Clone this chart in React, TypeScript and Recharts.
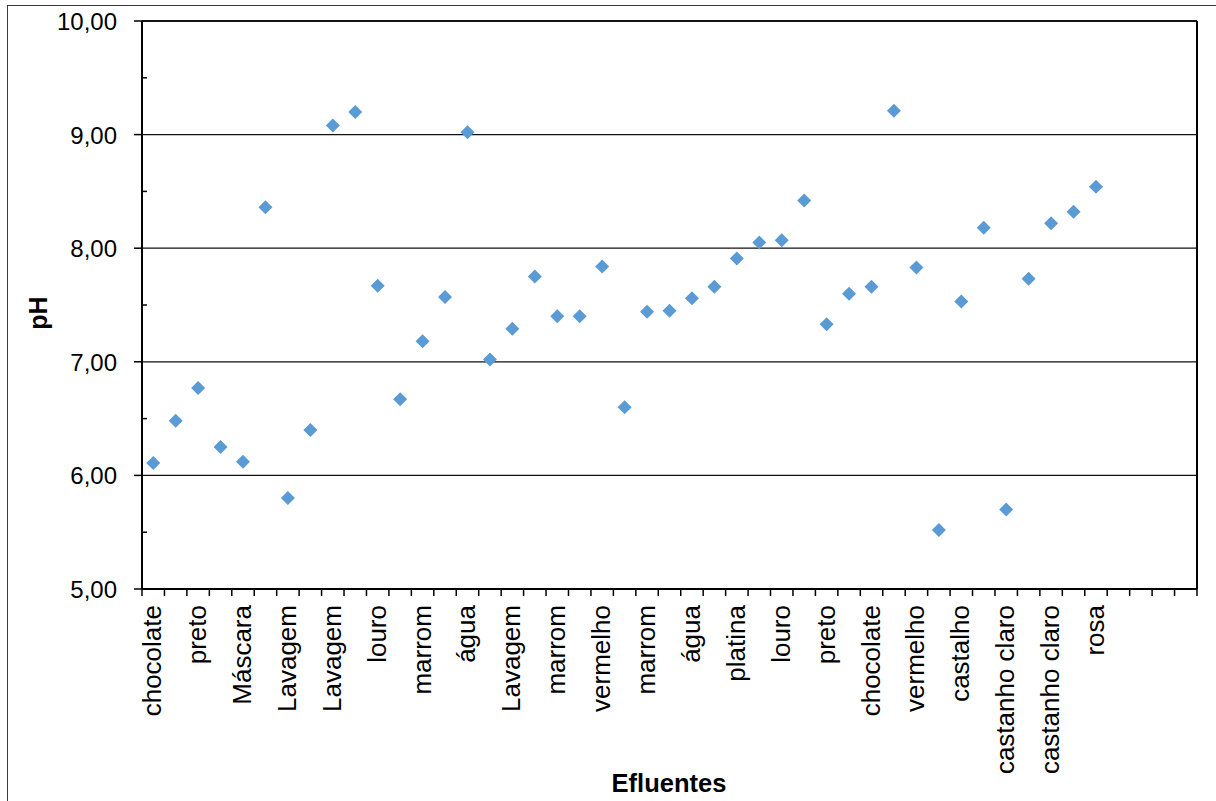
import React from "react";
import {
  CartesianGrid,
  ReferenceLine,
  Scatter,
  ScatterChart,
  XAxis,
  YAxis,
} from "recharts";

// pH of each effluent sample, in collection order
const phValues = [
  6.11, 6.48, 6.77, 6.25, 6.12, 8.36, 5.8, 6.4, 9.08, 9.2, 7.67, 6.67, 7.18,
  7.57, 9.02, 7.02, 7.29, 7.75, 7.4, 7.4, 7.84, 6.6, 7.44, 7.45, 7.56, 7.66,
  7.91, 8.05, 8.07, 8.42, 7.33, 7.6, 7.66, 9.21, 7.83, 5.52, 7.53, 8.18, 5.7,
  7.73, 8.22, 8.32, 8.54,
];

// labels shown on every other sample slot
const tickLabels = [
  "chocolate", "preto", "Máscara", "Lavagem", "Lavagem", "louro", "marrom",
  "água", "Lavagem", "marrom", "vermelho", "marrom", "água", "platina",
  "louro", "preto", "chocolate", "vermelho", "castalho", "castanho claro",
  "castanho claro", "rosa",
];

// total slots on the axis (the last ones are empty)
const SLOT_COUNT = 47;

const majorY = [5, 6, 7, 8, 9, 10];
const minorY = [5.5, 6.5, 7.5, 8.5, 9.5];
const gridY = [6, 7, 8, 9, 10];

const slotEdges = Array.from({ length: SLOT_COUNT + 1 }, (_, i) => i);
const labelSlots = tickLabels.map((_, k) => 2 * k + 0.5);
const xTicks = [...slotEdges, ...labelSlots].sort((a, b) => a - b);

const data = phValues.map((ph, i) => ({ slot: i + 0.5, ph }));

const FONT = "'Liberation Sans', Arial, sans-serif";

function Diamond({ cx, cy }: { cx?: number; cy?: number }) {
  if (cx == null || cy == null) return null;
  const r = 7;
  return (
    <polygon
      points={`${cx},${cy - r} ${cx + r},${cy} ${cx},${cy + r} ${cx - r},${cy}`}
      fill="#5B9BD5"
    />
  );
}

function XTick(props: any) {
  const { x, y, payload } = props;
  const v = payload.value as number;
  if (Number.isInteger(v)) {
    return <line x1={x} y1={y} x2={x} y2={y + 7} stroke="#000" strokeWidth={1.5} />;
  }
  const label = tickLabels[(v - 0.5) / 2];
  const ty = y + 16;
  return (
    <text
      x={x + 8}
      y={ty}
      transform={`rotate(-90, ${x + 8}, ${ty})`}
      textAnchor="end"
      fontSize={26}
      fill="#000"
      fontFamily={FONT}
    >
      {label}
    </text>
  );
}

function YTick(props: any) {
  const { x, y, payload } = props;
  const v = payload.value as number;
  if (!Number.isInteger(v)) {
    return <line x1={x} y1={y} x2={x + 5} y2={y} stroke="#000" strokeWidth={1.5} />;
  }
  return (
    <g>
      <line x1={x - 8} y1={y} x2={x} y2={y} stroke="#000" strokeWidth={1.5} />
      <text x={x - 25} y={y + 9} textAnchor="end" fontSize={24} fill="#000" fontFamily={FONT}>
        {v.toFixed(2).replace(".", ",")}
      </text>
    </g>
  );
}

export default function App() {
  return (
    <div
      style={{
        position: "absolute",
        left: 0,
        top: 0,
        width: 1216,
        height: 801,
        overflow: "hidden",
        background: "#fff",
        fontFamily: FONT,
      }}
    >
      <div
        style={{
          position: "absolute",
          left: 7,
          top: 5,
          width: 1300,
          height: 900,
          borderTop: "1.5px solid #3a3a3a",
          borderLeft: "1.5px solid #3a3a3a",
        }}
      />
      <div style={{ position: "absolute", left: 0, top: 0 }}>
        <ScatterChart
          width={1216}
          height={801}
          margin={{ top: 21, right: 19, bottom: 0, left: 0 }}
        >
          <CartesianGrid
            vertical={false}
            horizontalValues={gridY}
            stroke="#111"
            strokeWidth={1.3}
          />
          <XAxis
            type="number"
            dataKey="slot"
            domain={[0, SLOT_COUNT]}
            ticks={xTicks}
            interval={0}
            height={212}
            tickSize={0}
            tickMargin={0}
            tickLine={false}
            axisLine={{ stroke: "#000", strokeWidth: 2 }}
            tick={(p: any) => <XTick {...p} />}
          />
          <YAxis
            type="number"
            dataKey="ph"
            domain={[5, 10]}
            ticks={[...majorY, ...minorY].sort((a, b) => a - b)}
            interval={0}
            width={142}
            tickSize={0}
            tickMargin={0}
            tickLine={false}
            axisLine={{ stroke: "#000", strokeWidth: 2 }}
            tick={(p: any) => <YTick {...p} />}
          />
          <ReferenceLine x={SLOT_COUNT} stroke="#000" strokeWidth={2} />
          <ReferenceLine y={10} stroke="#000" strokeWidth={1.5} />
          <Scatter
            data={data}
            isAnimationActive={false}
            shape={(p: any) => <Diamond cx={p.cx} cy={p.cy} />}
          />
        </ScatterChart>
      </div>
      <div
        style={{
          position: "absolute",
          left: 669,
          top: 770,
          transform: "translateX(-50%)",
          fontSize: 25.5,
          fontWeight: "bold",
          whiteSpace: "nowrap",
          lineHeight: "26px",
        }}
      >
        Efluentes
      </div>
      <div
        style={{
          position: "absolute",
          left: 38,
          top: 313,
          transform: "translate(-50%, -50%) rotate(-90deg)",
          fontSize: 25,
          fontWeight: "bold",
          whiteSpace: "nowrap",
          lineHeight: "28px",
        }}
      >
        pH
      </div>
    </div>
  );
}
